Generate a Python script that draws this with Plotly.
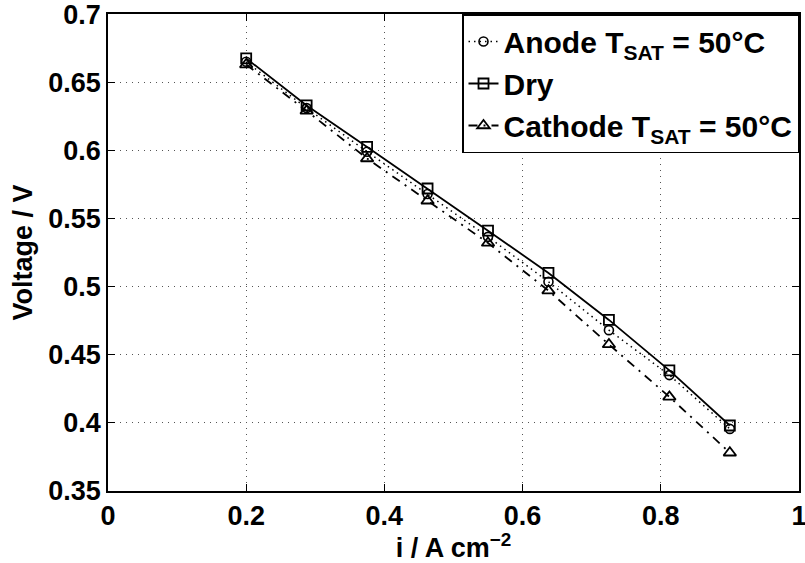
import plotly.graph_objects as go

# ---- data ----
current_density = [0.2, 0.2875, 0.375, 0.4625, 0.55, 0.6375, 0.725, 0.8125, 0.9]
anode_v = [0.665, 0.631, 0.599, 0.568, 0.5365, 0.5035, 0.468, 0.435, 0.3955]
dry_v = [0.6675, 0.633, 0.6025, 0.572, 0.541, 0.510, 0.4755, 0.4385, 0.398]
cathode_v = [0.663, 0.629, 0.594, 0.563, 0.532, 0.497, 0.4575, 0.419, 0.378]

x_ticks = [0, 0.2, 0.4, 0.6, 0.8, 1]
x_tick_labels = ["0", "0.2", "0.4", "0.6", "0.8", "1"]
y_ticks = [0.35, 0.4, 0.45, 0.5, 0.55, 0.6, 0.65, 0.7]
y_tick_labels = ["0.35", "0.4", "0.45", "0.5", "0.55", "0.6", "0.65", "0.7"]

FONT = "Liberation Sans, Arial, Helvetica, sans-serif"

fig = go.Figure()
fig.add_trace(go.Scatter(
    x=current_density, y=anode_v, mode="lines+markers",
    name="Anode T<sub>SAT</sub> = 50°C",
    line=dict(color="black", width=1.5, dash="1.5px,4px"),
    marker=dict(symbol="circle-open", size=9, color="black", line=dict(width=1.6, color="black")),
))
fig.add_trace(go.Scatter(
    x=current_density, y=dry_v, mode="lines+markers",
    name="Dry",
    line=dict(color="black", width=1.8, dash="solid"),
    marker=dict(symbol="square-open", size=10, color="black", line=dict(width=1.8, color="black")),
))
fig.add_trace(go.Scatter(
    x=current_density, y=cathode_v, mode="lines+markers",
    name="Cathode T<sub>SAT</sub> = 50°C",
    line=dict(color="black", width=1.8, dash="9px,6px,2px,6px"),
    marker=dict(symbol="triangle-up-open", size=11, color="black", line=dict(width=1.8, color="black")),
))

axis_common = dict(
    showline=True, linecolor="black", linewidth=1.5, mirror="ticks",
    ticks="inside", ticklen=7, tickwidth=1.2, tickcolor="black",
    showgrid=True, gridcolor="#555555", gridwidth=1, griddash="1px,5px",
    zeroline=False, ticklabeloverflow="allow", automargin=False,
    tickfont=dict(family=FONT, size=27, color="black", weight="bold"),
)

fig.update_layout(
    width=805, height=563,
    margin=dict(l=108, r=6, t=14, b=72, autoexpand=False),
    paper_bgcolor="white", plot_bgcolor="white",
    font=dict(family=FONT, color="black", weight="bold"),
    showlegend=True,
    legend=dict(
        x=1, y=1, xanchor="right", yanchor="top",
        bgcolor="white", bordercolor="black", borderwidth=1.5,
        font=dict(family=FONT, size=30, color="black", weight="bold"),
        tracegroupgap=0, itemwidth=30,
    ),
    xaxis=dict(
        range=[0, 1.0001], tickvals=x_ticks, ticktext=x_tick_labels,
        title=dict(text="i / A cm<sup>−2</sup>", standoff=9,
                   font=dict(family=FONT, size=27, color="black", weight="bold")),
        **axis_common,
    ),
    yaxis=dict(
        range=[0.3499, 0.7001], tickvals=y_ticks, ticktext=y_tick_labels,
        title=dict(text="Voltage / V", standoff=8,
                   font=dict(family=FONT, size=27, color="black", weight="bold")),
        **axis_common,
    ),
)

fig.write_html("out.html")
